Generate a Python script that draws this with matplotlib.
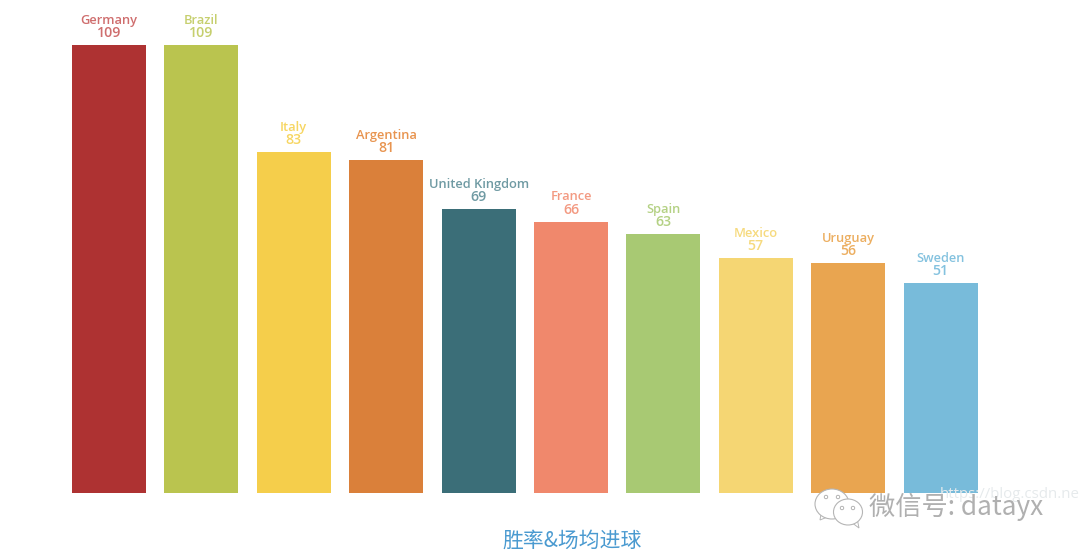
import matplotlib
matplotlib.use("Agg")
import matplotlib.pyplot as plt
from matplotlib.patches import Ellipse, Polygon

plt.rcParams['font.family'] = ['Noto Sans CJK SC', 'DejaVu Sans']

countries = ["Germany", "Brazil", "Italy", "Argentina", "United Kingdom",
             "France", "Spain", "Mexico", "Uruguay", "Sweden"]
goals = [109, 109, 83, 81, 69, 66, 63, 57, 56, 51]
colors = ["#AE3232", "#BAC44F", "#F5CE4B", "#DA803A", "#3B6E78",
          "#F0886C", "#A8C973", "#F5D673", "#E9A550", "#78BBDA"]
label_colors = ["#CF6E6E", "#C6CF6E", "#F7D662", "#E8944F", "#6F9AA3",
                "#F39A82", "#B4D184", "#F6DA7E", "#ECAE60", "#84C2DF"]
title = "胜率&场均进球"
watermark_main = "微信号: datayx"
watermark_url = "https://blog.csdn.ne"

W, H = 1080, 560
fig = plt.figure(figsize=(W / 100, H / 100), dpi=100, facecolor="white")
ax = fig.add_axes([62.8 / W, (H - 492.5) / H, 924.0 / W, 447.5 / H])
ax.set_xlim(-0.5, 9.5)
ax.set_ylim(0, 109)
ax.axis("off")

x = range(len(countries))
ax.bar(x, goals, width=0.8, color=colors, edgecolor="none", zorder=2)

for i, (name, val, c) in enumerate(zip(countries, goals, label_colors)):
    ax.annotate(str(val), (i, val), xytext=(0, 3.6), textcoords="offset points",
                ha="center", va="bottom", fontsize=10.2, color=c, fontweight="semibold",
                fontfamily=["Open Sans", "DejaVu Sans"], annotation_clip=False)
    ax.annotate(name, (i, val), xytext=(0, 13.0), textcoords="offset points",
                ha="center", va="bottom", fontsize=9.3, color=c, fontweight="semibold",
                fontfamily=["Open Sans", "DejaVu Sans"], annotation_clip=False)

def px(xp, yp):
    return xp / W, 1 - yp / H

fig.text(*px(572.5, 541), title, ha="center", va="center", fontsize=15, color="#4A9AD0")

# watermark
fig.text(*px(940, 495), watermark_url, ha="left", va="center", fontsize=10.8, color="#E6EAEC",
         fontfamily=["Open Sans", "DejaVu Sans"], zorder=5)
fig.text(*px(869, 507), watermark_main, ha="left", va="center", fontsize=18.9, color="#B0B0B0", zorder=6)

# WeChat-style icon
tr = fig.transFigure
def bubble(cx, cy, rx, ry, tail):
    fig.add_artist(Polygon([px(*p) for p in tail], closed=True, facecolor="white",
                           edgecolor="#B5B5B5", lw=0.7, transform=tr))
    fig.add_artist(Ellipse(px(cx, cy), 2 * rx / W, 2 * ry / H, facecolor="white",
                           edgecolor="#B5B5B5", lw=0.8, transform=tr))
bubble(832, 504, 17, 15, [(821, 514), (820, 520), (830, 516)])
bubble(848, 512, 14.5, 13, [(851, 522), (859, 528), (857, 518)])
for (ex, ey) in [(826, 497), (838, 497), (842, 508), (853, 508)]:
    fig.add_artist(Ellipse(px(ex, ey), 3.5 / W, 3.5 / H, facecolor="white",
                           edgecolor="#AAAAAA", lw=0.6, transform=tr))

fig.savefig("out.png", dpi=100)
